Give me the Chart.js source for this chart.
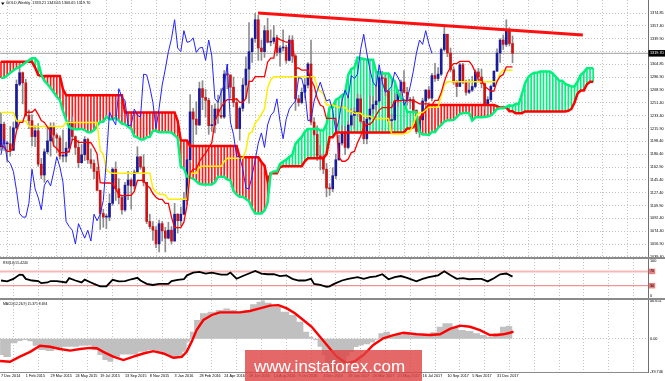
<!DOCTYPE html>
<html>
<head>
<meta charset="utf-8">
<title>GOLD Weekly</title>
<script src="https://cdn.jsdelivr.net/npm/chart.js@4.4.1/dist/chart.umd.min.js"></script>
<style>
  html, body { margin: 0; padding: 0; background: #fff; }
  #wrap { position: relative; width: 665px; height: 381px; overflow: hidden; background: #fff; }
  canvas { position: absolute; left: 0; }
  .sep { position: absolute; left: 0; width: 665px; height: 2px; background: #8a8a8a; }
  #stamp { position: absolute; left: 245px; top: 350px; width: 177px; height: 31px; background: rgba(222, 66, 66, 0.8); }
  #stamp span { position: absolute; left: 9px; top: 7px; line-height: 17px; font: 17px 'Liberation Sans', Arial, sans-serif; color: #fff; white-space: nowrap; }
</style>
</head>
<body>
<div id="wrap">
  <canvas id="main" width="665" height="257" style="top:0"></canvas>
  <div class="sep" style="top:257px"></div>
  <canvas id="rsi" width="665" height="39" style="top:259px"></canvas>
  <div class="sep" style="top:298px"></div>
  <canvas id="macd" width="665" height="81" style="top:300px"></canvas>
  <div id="stamp"><span>www.instaforex.com</span></div>
</div>
<script>
// date labels, one every 8 weekly bars starting at bar 0
var weekLabels = ['7 Dec 2014', '1 Feb 2015', '29 Mar 2015', '24 May 2015', '19 Jul 2015', '13 Sep 2015',
  '8 Nov 2015', '3 Jan 2016', '28 Feb 2016', '24 Apr 2016', '19 Jun 2016', '14 Aug 2016', '9 Oct 2016',
  '4 Dec 2016', '29 Jan 2017', '26 Mar 2017', '21 May 2017', '16 Jul 2017', '10 Sep 2017', '5 Nov 2017', '31 Dec 2017'];

var priceTicks = ['1374.85', '1357.40', '1339.90', '1321.90', '1304.85', '1286.90', '1268.90', '1251.40', '1233.40',
  '1215.90', '1198.40', '1180.40', '1162.90', '1145.40', '1127.40', '1109.90', '1092.40', '1074.40', '1056.90', '1039.40'];
var rsiTicks = [0, 30, 70, 100];
var rsiLevels = [30, 70];
var macdTicks = ['46.651', '0.00', '-39.746'];

var opens = [1191, 1222, 1195, 1195, 1186, 1217, 1277, 1293, 1279, 1234,
  1227, 1205, 1213, 1167, 1152, 1184, 1199, 1219, 1207, 1203,
  1178, 1178, 1189, 1225, 1205, 1190, 1169, 1180, 1201, 1173,
  1168, 1157, 1131, 1099, 1094, 1094, 1113, 1160, 1133, 1121,
  1104, 1138, 1145, 1137, 1156, 1177, 1163, 1142, 1088, 1081,
  1076, 1057, 1085, 1075, 1065, 1076, 1061, 1098, 1089, 1098,
  1117, 1173, 1239, 1229, 1221, 1271, 1259, 1255, 1220, 1221,
  1243, 1234, 1232, 1291, 1290, 1273, 1252, 1216, 1244, 1276,
  1298, 1322, 1340, 1366, 1327, 1322, 1351, 1335, 1336, 1341,
  1321, 1327, 1328, 1310, 1338, 1316, 1257, 1252, 1266, 1276,
  1305, 1225, 1208, 1178, 1177, 1160, 1134, 1133, 1151, 1173,
  1196, 1210, 1190, 1221, 1234, 1239, 1257, 1226, 1202, 1229,
  1243, 1249, 1254, 1286, 1285, 1268, 1227, 1228, 1254, 1268,
  1280, 1266, 1254, 1256, 1241, 1212, 1228, 1254, 1269, 1258,
  1289, 1285, 1291, 1325, 1346, 1320, 1297, 1280, 1274, 1304,
  1280, 1266, 1269, 1274, 1294, 1287, 1278, 1248, 1256, 1274,
  1295, 1320, 1338, 1332, 1351, 1333.21];

var highs = [1238, 1225, 1199, 1219, 1225, 1283, 1307, 1294, 1284, 1242,
  1235, 1220, 1223, 1175, 1188, 1219, 1224, 1224, 1209, 1206,
  1214, 1197, 1227, 1232, 1206, 1200, 1194, 1205, 1203, 1188,
  1173, 1163, 1131, 1105, 1098, 1126, 1162, 1170, 1147, 1124,
  1142, 1157, 1147, 1159, 1191, 1178, 1180, 1142, 1098, 1088,
  1081, 1090, 1088, 1080, 1087, 1081, 1113, 1099, 1108, 1128,
  1174, 1263, 1244, 1253, 1280, 1282, 1270, 1258, 1248, 1250,
  1262, 1271, 1296, 1304, 1290, 1287, 1257, 1246, 1285, 1315,
  1362, 1341, 1375, 1372, 1338, 1358, 1368, 1352, 1358, 1345,
  1330, 1352, 1331, 1344, 1344, 1318, 1262, 1272, 1285, 1307,
  1338, 1231, 1220, 1193, 1180, 1168, 1140, 1162, 1181, 1207,
  1220, 1219, 1226, 1244, 1245, 1264, 1263, 1233, 1233, 1261,
  1260, 1274, 1288, 1295, 1290, 1268, 1236, 1264, 1270, 1283,
  1296, 1273, 1259, 1260, 1242, 1233, 1258, 1270, 1274, 1292,
  1306, 1300, 1327, 1357, 1346, 1327, 1301, 1282, 1306, 1306,
  1283, 1284, 1288, 1297, 1299, 1298, 1279, 1260, 1276, 1296,
  1326, 1340, 1345, 1366, 1355, 1343.65];

var lows = [1186, 1186, 1170, 1178, 1186, 1215, 1275, 1250, 1233, 1216,
  1192, 1191, 1164, 1147, 1142, 1181, 1178, 1192, 1183, 1174,
  1170, 1170, 1183, 1200, 1180, 1162, 1168, 1172, 1168, 1161,
  1147, 1130, 1077, 1080, 1078, 1089, 1110, 1117, 1112, 1098,
  1102, 1118, 1105, 1132, 1156, 1160, 1137, 1085, 1078, 1062,
  1052, 1046, 1061, 1046, 1064, 1057, 1061, 1072, 1082, 1097,
  1111, 1170, 1191, 1208, 1220, 1242, 1232, 1208, 1212, 1210,
  1223, 1230, 1230, 1271, 1258, 1246, 1216, 1200, 1240, 1258,
  1251, 1307, 1335, 1310, 1310, 1314, 1334, 1330, 1333, 1316,
  1302, 1323, 1306, 1309, 1307, 1241, 1247, 1250, 1258, 1272,
  1221, 1206, 1172, 1159, 1154, 1122, 1124, 1129, 1147, 1172,
  1193, 1180, 1188, 1219, 1216, 1233, 1223, 1195, 1195, 1229,
  1237, 1241, 1252, 1277, 1261, 1225, 1214, 1227, 1247, 1259,
  1265, 1248, 1243, 1236, 1209, 1204, 1228, 1244, 1257, 1254,
  1281, 1282, 1289, 1323, 1315, 1294, 1277, 1260, 1274, 1278,
  1262, 1264, 1267, 1272, 1280, 1272, 1243, 1236, 1253, 1274,
  1295, 1307, 1325, 1329, 1330, 1306.65];

var closes = [1222, 1195, 1195, 1186, 1217, 1277, 1293, 1279, 1234, 1227,
  1205, 1213, 1167, 1152, 1184, 1199, 1219, 1207, 1203, 1178,
  1178, 1189, 1225, 1205, 1190, 1169, 1180, 1201, 1173, 1168,
  1157, 1131, 1099, 1094, 1094, 1113, 1160, 1133, 1121, 1104,
  1138, 1145, 1137, 1156, 1177, 1163, 1142, 1088, 1081, 1076,
  1057, 1085, 1075, 1065, 1076, 1061, 1098, 1089, 1098, 1117,
  1173, 1239, 1229, 1221, 1271, 1259, 1255, 1220, 1221, 1243,
  1234, 1232, 1291, 1290, 1273, 1252, 1216, 1244, 1276, 1298,
  1322, 1340, 1366, 1327, 1322, 1351, 1335, 1336, 1341, 1321,
  1327, 1328, 1310, 1338, 1316, 1257, 1252, 1266, 1276, 1305,
  1225, 1208, 1178, 1177, 1160, 1134, 1133, 1151, 1173, 1196,
  1210, 1190, 1221, 1234, 1239, 1257, 1226, 1202, 1229, 1243,
  1249, 1254, 1286, 1285, 1268, 1227, 1228, 1254, 1268, 1280,
  1266, 1254, 1256, 1241, 1212, 1228, 1254, 1269, 1258, 1289,
  1285, 1291, 1325, 1346, 1320, 1297, 1280, 1274, 1304, 1280,
  1266, 1269, 1274, 1294, 1287, 1278, 1248, 1256, 1274, 1295,
  1320, 1338, 1332, 1351, 1333.21, 1319.7];

// ichimoku lines (tenkan red, kijun yellow)
var tenkan = [1193, 1190.5, 1184.5, 1184.5, 1190, 1212.5, 1224.5, 1224.5, 1238.5, 1238.5,
  1238.5, 1242.5, 1235.5, 1227, 1224.5, 1218, 1213, 1192, 1188.5, 1183,
  1183, 1183, 1184.5, 1201, 1201, 1197, 1197, 1197, 1197, 1196.5,
  1189.5, 1181, 1141.5, 1141, 1141, 1141, 1140, 1132.5, 1125, 1123.5,
  1123.5, 1124, 1124, 1129.5, 1144.5, 1144.5, 1144.5, 1138, 1134.5, 1126.5,
  1121.5, 1118.5, 1118.5, 1113, 1113, 1094, 1079.5, 1079.5, 1079.5, 1087,
  1110, 1154.5, 1160, 1160, 1170.5, 1177, 1182, 1189.5, 1196.5, 1226,
  1236.5, 1245, 1252, 1256, 1256, 1256, 1257, 1252, 1252, 1257.5,
  1281, 1281, 1287.5, 1287.5, 1287.5, 1287.5, 1307.5, 1313, 1313, 1341,
  1338.5, 1337, 1335, 1335, 1335, 1299.5, 1299.5, 1296.5, 1296.5, 1296.5,
  1282.5, 1275, 1258, 1248.5, 1246, 1230, 1230, 1230, 1230, 1176.5,
  1171, 1171, 1174, 1183, 1184.5, 1196.5, 1205.5, 1218, 1222, 1222,
  1226, 1234.5, 1241.5, 1245, 1245, 1245, 1245, 1254.5, 1254.5, 1254.5,
  1255, 1255, 1255, 1255, 1252.5, 1250, 1250, 1250, 1250, 1248,
  1255, 1255, 1265.5, 1280.5, 1292.5, 1300.5, 1305.5, 1305.5, 1308.5, 1308.5,
  1308.5, 1308.5, 1303, 1293.5, 1283, 1283, 1274.5, 1271, 1267.5, 1267.5,
  1281, 1288, 1290.5, 1301, 1301, 1301];

var kijun = [1238, 1238, 1238, 1238, 1238, 1226.5, 1226.5, 1226.5, 1226.5, 1219,
  1219, 1219, 1219, 1219, 1219, 1219, 1219, 1219, 1219, 1219,
  1219, 1224.5, 1224.5, 1224.5, 1224.5, 1224.5, 1224.5, 1224.5, 1224.5, 1224.5,
  1224.5, 1224.5, 1185.5, 1180.5, 1159.5, 1156, 1154.5, 1154.5, 1154.5, 1154.5,
  1154.5, 1154.5, 1154.5, 1154.5, 1154.5, 1154.5, 1154.5, 1154.5, 1154.5, 1134,
  1128.5, 1125.5, 1125.5, 1124.5, 1118.5, 1118.5, 1118.5, 1118.5, 1118.5, 1118.5,
  1118.5, 1154.5, 1154.5, 1154.5, 1163, 1164, 1164, 1164, 1164, 1164,
  1164, 1164, 1171, 1175, 1175, 1175, 1175, 1175, 1175, 1186,
  1209.5, 1211.5, 1223.5, 1228.5, 1236, 1243, 1272.5, 1283, 1287.5, 1287.5,
  1287.5, 1287.5, 1287.5, 1287.5, 1287.5, 1287.5, 1287.5, 1287.5, 1287.5, 1287.5,
  1287.5, 1287.5, 1273.5, 1267, 1264.5, 1248.5, 1248.5, 1248.5, 1247, 1245,
  1245, 1245, 1240, 1240, 1237, 1237, 1237, 1233, 1233, 1233,
  1230, 1230, 1230, 1230, 1230, 1230, 1208.5, 1208.5, 1208.5, 1208.5,
  1209, 1210, 1212.5, 1221.5, 1234, 1238, 1238, 1242, 1245.5, 1245.5,
  1245.5, 1245.5, 1261, 1276, 1280.5, 1280.5, 1280.5, 1280.5, 1280.5, 1280.5,
  1280.5, 1280.5, 1280.5, 1280.5, 1280.5, 1280.5, 1280.5, 1280.5, 1280.5, 1280.5,
  1280.5, 1292.5, 1296.5, 1296.5, 1296.5, 1296.5];

// cloud edges, already shifted 26 bars ahead (index = bar position, 0..191)
var spanA = [1286, 1286, 1289, 1293, 1296, 1299, 1301, 1304, 1307, 1310,
  1313, 1313, 1308, 1290, 1282, 1277, 1272, 1266, 1260, 1255,
  1240, 1228, 1218, 1216, 1215, 1215,
  1215.5, 1214, 1211, 1211, 1214, 1219.5, 1225.5, 1225.5, 1232.5, 1229,
  1229, 1231, 1227, 1223, 1222, 1218.5, 1216, 1205.5, 1204, 1201,
  1201, 1204, 1204.5, 1213, 1213, 1211, 1211, 1211, 1211, 1210.5,
  1207, 1203, 1163.5, 1161, 1150, 1148.5, 1147, 1143.5, 1140, 1139,
  1139, 1139, 1139, 1142, 1149.5, 1149.5, 1149.5, 1146, 1144.5, 1130,
  1125, 1122, 1122, 1119, 1116, 1106, 1099, 1099, 1099, 1103,
  1114, 1154.5, 1157, 1157, 1167, 1170.5, 1173, 1177, 1180, 1195,
  1200, 1204.5, 1211.5, 1215.5, 1215.5, 1215.5, 1216, 1213.5, 1213.5, 1222,
  1245, 1246, 1255.5, 1258, 1262, 1265, 1290, 1298, 1300, 1314,
  1313, 1312, 1311, 1311, 1311, 1293.5, 1293.5, 1292, 1292, 1292,
  1285, 1281, 1266, 1258, 1255, 1239, 1239, 1239, 1238.5, 1211,
  1208, 1208, 1207, 1211.5, 1211, 1217, 1221, 1225.5, 1227.5, 1227.5,
  1228, 1232, 1236, 1237.5, 1237.5, 1237.5, 1227, 1231.5, 1231.5, 1231.5,
  1232, 1232.5, 1234, 1238, 1243, 1244, 1244, 1246, 1248, 1247,
  1250, 1250, 1263, 1278, 1286.5, 1290.5, 1293, 1293, 1294.5, 1294.5,
  1294.5, 1294.5, 1292, 1287, 1282, 1282, 1277.5, 1276, 1274, 1274,
  1281, 1290, 1293.5, 1299, 1299, 1299];

var spanB = [1308, 1308, 1308, 1308, 1308, 1308, 1308, 1308, 1308, 1308,
  1308, 1300, 1290, 1288.5, 1288.5, 1288.5, 1288.5, 1288.5, 1288.5, 1288.5,
  1270, 1262, 1262, 1262, 1262, 1262, 1262, 1262, 1262, 1262,
  1262, 1262, 1262, 1262, 1262, 1262, 1262, 1262, 1262, 1262,
  1238, 1238, 1238, 1238, 1238, 1238, 1238, 1238, 1238, 1238,
  1238, 1238, 1238, 1238, 1238, 1238, 1238, 1226.5, 1199.5, 1199.5,
  1199.5, 1192, 1192, 1192, 1192, 1192, 1192, 1192, 1192, 1192,
  1192, 1192, 1192, 1192, 1192, 1192, 1192, 1176.5, 1176.5, 1176.5,
  1176.5, 1176.5, 1176.5, 1176.5, 1170, 1165, 1144, 1154.5, 1154.5, 1154.5,
  1163, 1164, 1164, 1164, 1164, 1164, 1164, 1164, 1171, 1175,
  1175, 1175, 1175, 1175, 1175, 1180.5, 1204, 1204, 1210.5, 1210.5,
  1210.5, 1210.5, 1210.5, 1210.5, 1210.5, 1210.5, 1210.5, 1210.5, 1210.5, 1210.5,
  1210.5, 1210.5, 1210.5, 1210.5, 1210.5, 1210.5, 1210.5, 1210.5, 1210.5, 1210.5,
  1210.5, 1216, 1216, 1218, 1223.5, 1228.5, 1236, 1243, 1248.5, 1248.5,
  1248.5, 1248.5, 1248.5, 1248.5, 1248.5, 1248.5, 1248.5, 1248.5, 1248.5, 1248.5,
  1248.5, 1248.5, 1248.5, 1248.5, 1248.5, 1248.5, 1248.5, 1248.5, 1248.5, 1248.5,
  1247, 1245, 1245, 1245, 1240, 1240, 1237, 1237, 1237, 1239.5,
  1239.5, 1239.5, 1239.5, 1239.5, 1239.5, 1239.5, 1239.5, 1239.5, 1239.5, 1239.5,
  1239.5, 1239.5, 1239.5, 1240.5, 1243, 1252, 1264.5, 1268.5, 1268.5, 1277,
  1280.5, 1280.5];

// drawn resistance line (bar position, price)
var trendWeeks = [82.9, 187.7];
var trendPrices = [1375.3, 1344.9];

var rsiWeeks = [0, 2, 4, 6, 7, 8, 10, 12, 13, 15, 16, 18, 21, 22, 24, 26, 27, 29, 30, 32,
  34, 36, 38, 40, 42, 44, 45, 47, 49, 51, 54, 55, 57, 59, 60, 62, 64, 66, 68, 71,
  73, 74, 76, 78, 80, 82, 84, 86, 88, 90, 92, 94, 96, 98, 100, 101, 103, 105, 106, 107,
  108, 110, 112, 115, 117, 119, 121, 123, 125, 127, 129, 131, 134, 136, 138, 141, 143, 145, 147, 149,
  151, 153, 155, 157, 159, 161, 163, 165];
var rsiValues = [44.5, 42, 49, 61, 60, 49, 44.5, 43, 37, 39, 43, 43, 39, 51, 44.5, 39, 47, 39, 35, 28,
  28, 46.5, 42, 43, 48, 52, 44.5, 35, 32, 35, 35, 43, 46.5, 48, 59, 66.6, 68.6, 64, 66.6, 61,
  61, 66.6, 49.4, 57, 64, 71.3, 64, 62, 62, 57, 59, 49, 44.5, 44.5, 49, 35, 32, 27, 28, 33,
  37, 44.5, 49, 54, 49, 54, 56, 62, 48, 54, 57, 52, 42, 49, 54, 59, 70.4, 59, 49, 51,
  48, 49, 49, 42, 51, 62, 64, 55.4];

var histWeeks = [-0.3, 1.8, 4.5, 6.1, 7.7, 9.4, 11, 13.1, 15.8, 18.5, 21.2, 23.9, 26.5, 28.2, 30.3, 31.9, 33.5, 35.2, 37.3, 39.5,
  42.7, 45.9, 48.6, 51.3, 53.4, 55.6, 57.7, 59.4, 60.4, 61.5, 63.1, 65.3, 68, 70.6, 72.8, 74.9, 77.1, 79.3, 81.4, 83.5,
  84.5, 85.7, 88.9, 91.6, 94.3, 96.5, 98.6, 100.2, 101.3, 102.9, 104, 105, 106, 107, 108, 109, 110, 111, 112, 113,
  114.7, 116, 118, 120.1, 121.2, 122.3, 124.4, 126.5, 128.7, 130.9, 133, 135.2, 137.3, 139.5, 141.6, 143.2, 144.8, 146.5, 148.6, 151.3,
  153.5, 155.6, 157.7, 159.9, 162, 163.7, 165];
var histValues = [-19.7, -22, -5.5, -2.7, -1.5, -3, -8.4, -13.6, -14.8, -11.6, -9.6, -9.6, -8.4, -8, -13.6, -19.7, -25.8, -27.8, -21.7, -18.9,
  -18.9, -15.8, -13.6, -15.8, -19.7, -23.7, -21.7, -15.8, -3.4, 8.6, 22.9, 31, 33, 35, 37, 35, 33, 35, 42, 45,
  46.6, 44, 39, 33, 29, 20.8, 8.6, 2.5, -1.5, -9.6, -20, -29, -36, -39.7, -39, -36, -32, -27, -21, -16,
  -10, -8, -6.7, -4.3, -1, 6.7, 8.6, 5, 5, 6, 4.5, 4, 4.6, 8, 14.7, 18.8, 18.8, 14.7, 10.6, 9.4,
  6.7, 4.6, 2.6, 6.7, 14.7, 15.9, 15.4];

var signalWeeks = [-0.3, 2.9, 6.1, 9.4, 12.6, 15.8, 19, 22.3, 25.5, 28.7, 30.9, 33, 36.2, 39.5, 42.7, 45.9, 49.1, 52.4, 55.6, 58.3,
  59.9, 61.5, 63.1, 65.3, 68, 70.6, 73.9, 77.1, 80.3, 83.5, 86.8, 89.5, 92.2, 94.8, 97.5, 100.2, 102.9, 105.6, 108.3, 111.5,
  114.2, 116.9, 120.1, 123.3, 126.6, 129.8, 134.1, 138.4, 141.6, 144.8, 148.1, 151.3, 154.5, 157.7, 159.9, 162, 164.2, 165.3];
var signalValues = [-27, -27.8, -21.7, -15.8, -8.4, -9.6, -12.4, -14.3, -12.4, -11, -11.5, -15.8, -21.7, -25.8, -21.7, -17.8, -15, -17.8, -23, -22,
  -15.8, -3.4, 10.7, 22.9, 29, 32.2, 32.2, 32.2, 33.8, 37, 40.3, 41, 37, 31, 22.9, 14.7, 2.5, -9.6, -21.7, -30,
  -27, -19.7, -7.5, 0.6, 4.6, 7.4, 5.5, 4.6, 5.5, 12, 16, 14.7, 10.6, 4.6, 4.6, 5.5, 7.4, 8.7];

var X_MIN = -0.32, X_MAX = 208.7;
var FONT = "'Liberation Sans', Arial, sans-serif";
var lastClose = closes[closes.length - 1];

function pts(xs, ys) {
  return ys.map(function (v, k) { return { x: xs[k], y: v }; });
}
function series(ys, start) {
  return ys.map(function (v, k) { return { x: k + (start || 0), y: v }; });
}

// candle bodies and wicks as floating bars
var bodyData = [], bodyColors = [], wickData = [];
for (var i = 0; i < closes.length; i++) {
  bodyData.push({ x: i, y: [opens[i], closes[i]] });
  bodyColors.push(closes[i] >= opens[i] ? '#1a1a9c' : '#cc1414');
  wickData.push({ x: i, y: [lows[i], highs[i]] });
}
// cloud hatching: one thin bar per position between the two spans
var hatchRed = [], hatchGreen = [];
for (var j = 0; j < spanA.length; j++) {
  var lo = Math.min(spanA[j], spanB[j]), hi = Math.max(spanA[j], spanB[j]);
  if (spanB[j] >= spanA[j]) hatchRed.push({ x: j, y: [lo, hi] });
  else hatchGreen.push({ x: j, y: [lo, hi] });
}
var chikou = series(closes.slice(26), 0);

var panelText = {
  id: 'panelText',
  afterDraw: function (chart, args, opts) {
    var ctx = chart.ctx;
    ctx.save();
    ctx.fillStyle = '#000';
    ctx.font = opts.size + 'px ' + FONT;
    ctx.textBaseline = 'top';
    ctx.fillText(opts.text, opts.x, opts.y);
    if (opts.arrow) {
      ctx.beginPath();
      ctx.moveTo(1, 2.5); ctx.lineTo(4.5, 2.5); ctx.lineTo(2.75, 5);
      ctx.closePath();
      ctx.fill();
    }
    ctx.restore();
  }
};

function xAxis(h, labels) {
  return {
    type: 'linear', min: X_MIN, max: X_MAX, offset: false,
    afterBuildTicks: function (s) {
      var t = [];
      for (var v = 0; v <= 208; v += 4) t.push({ value: v });
      s.ticks = t;
    },
    grid: {
      drawTicks: false,
      color: function (c) { return c.tick && c.tick.value % 8 === 4 ? '#c4c4c4' : 'rgba(0,0,0,0)'; }
    },
    border: { display: labels, color: '#8a8a8a', width: 1, dash: [1, 2] },
    ticks: {
      display: labels, autoSkip: false, maxRotation: 0, align: 'start', padding: 1.5,
      font: { size: 3.8, family: FONT }, color: '#000',
      callback: function (v) { return v % 8 === 0 && v / 8 < weekLabels.length ? weekLabels[v / 8] : ''; }
    },
    afterFit: function (s) { s.height = h; s.paddingLeft = 0; s.paddingRight = 0; }
  };
}

function baseOptions(textOpts) {
  return {
    animation: false, responsive: false, devicePixelRatio: 1,
    layout: { padding: 0, autoPadding: false },
    events: [],
    elements: { point: { radius: 0 }, line: { tension: 0 } },
    plugins: { legend: { display: false }, tooltip: { enabled: false }, panelText: textOpts }
  };
}

function barSet(data, color, width, order) {
  return { type: 'bar', data: data, backgroundColor: color, barThickness: width, grouped: false,
    borderWidth: 0, borderSkipped: false, minBarLength: 1, order: order };
}
function lineSet(data, color, width, order) {
  return { type: 'line', data: data, borderColor: color, borderWidth: width, pointRadius: 0, fill: false, order: order };
}

// ---- price panel ----
var mainOpts = baseOptions({ text: 'GOLD,Weekly  1333.21 1343.65 1306.65 1319.70', x: 6, y: 1.5, size: 3.8, arrow: true });
mainOpts.scales = {
  x: xAxis(0, false),
  y: {
    position: 'right', min: 1039.04, max: 1393.18,
    afterBuildTicks: function (s) {
      var t = priceTicks.map(function (p) { return { value: parseFloat(p) }; });
      t.push({ value: lastClose });
      s.ticks = t;
    },
    ticks: {
      autoSkip: false, padding: 2, font: { size: 3.8, family: FONT },
      color: function (c) { return c.index === priceTicks.length ? '#fff' : '#000'; },
      showLabelBackdrop: function (c) { return c.index === priceTicks.length; },
      backdropColor: '#000', backdropPadding: { top: 1, bottom: 1, left: 1.5, right: 4 },
      callback: function (v, idx) { return idx < priceTicks.length ? priceTicks[idx] : v.toFixed(2); }
    },
    grid: {
      drawTicks: false,
      color: function (c) { return c.index === priceTicks.length ? 'rgba(0,0,0,0)' : '#c4c4c4'; }
    },
    border: { display: true, color: '#707070', width: 1, dash: [1, 2] },
    afterFit: function (s) { s.width = 17; s.paddingTop = 0; s.paddingBottom = 0; }
  }
};

new Chart(document.getElementById('main'), {
  type: 'line',
  data: {
    datasets: [
      lineSet(pts(trendWeeks, trendPrices), '#ff1010', 3, 0),
      lineSet(chikou, '#2222ff', 1, 1),
      lineSet(series(tenkan), '#ff0000', 1.3, 2),
      lineSet(series(kijun), '#ffee00', 1.5, 3),
      lineSet(series(spanA), '#00f07c', 2.5, 4),
      lineSet(series(spanB), '#ff0000', 2.5, 5),
      barSet(bodyData, bodyColors, 2, 6),
      barSet(wickData, '#8c8c8c', 1, 7),
      barSet(hatchRed, '#ff1a1a', 1, 8),
      barSet(hatchGreen, '#00f07c', 1, 9),
      lineSet([{ x: X_MIN, y: lastClose }, { x: X_MAX, y: lastClose }], '#a0a0a0', 1, 10)
    ]
  },
  options: mainOpts,
  plugins: [panelText]
});

// ---- RSI panel ----
var rsiOpts = baseOptions({ text: 'RSI(14) 55.4240', x: 3, y: 2, size: 3.4 });
rsiOpts.scales = {
  x: xAxis(0, false),
  y: {
    position: 'right', min: -4.5, max: 104.7,
    afterBuildTicks: function (s) { s.ticks = rsiTicks.map(function (v) { return { value: v }; }); },
    ticks: {
      autoSkip: false, padding: 2, font: { size: 3.8, family: FONT }, color: '#000',
      showLabelBackdrop: function (c) { return c.tick && rsiLevels.indexOf(c.tick.value) >= 0; },
      backdropColor: '#f08080', backdropPadding: { top: 0.5, bottom: 0.5, left: 1, right: 1 },
      callback: function (v) { return String(v); }
    },
    grid: { drawTicks: false, color: 'rgba(0,0,0,0)' },
    border: { display: true, color: '#707070', width: 1 },
    afterFit: function (s) { s.width = 17; s.paddingTop = 0; s.paddingBottom = 0; }
  }
};
new Chart(document.getElementById('rsi'), {
  type: 'line',
  data: {
    datasets: [
      lineSet(pts(rsiWeeks, rsiValues), '#000', 1.8, 0),
      lineSet([{ x: X_MIN, y: rsiLevels[1] }, { x: X_MAX, y: rsiLevels[1] }], '#f7b8b8', 2, 1),
      lineSet([{ x: X_MIN, y: rsiLevels[0] }, { x: X_MAX, y: rsiLevels[0] }], '#ec7c7c', 1, 1)
    ]
  },
  options: rsiOpts,
  plugins: [panelText]
});

// ---- MACD panel ----
var macdOpts = baseOptions({ text: 'MACD(12,26,9) 15.371 8.694', x: 3, y: 2, size: 3.4 });
macdOpts.scales = {
  x: xAxis(9, true),
  y: {
    position: 'right', min: -40.3, max: 47.2,
    afterBuildTicks: function (s) { s.ticks = macdTicks.map(function (v) { return { value: parseFloat(v) }; }); },
    ticks: {
      autoSkip: false, padding: 2, font: { size: 3.8, family: FONT }, color: '#000',
      callback: function (v, idx) { return macdTicks[idx]; }
    },
    grid: {
      drawTicks: false,
      color: function (c) { return c.tick && c.tick.value === 0 ? '#c4c4c4' : 'rgba(0,0,0,0)'; }
    },
    border: { display: true, color: '#707070', width: 1, dash: [1, 2] },
    afterFit: function (s) { s.width = 17; s.paddingTop = 0; s.paddingBottom = 0; }
  }
};
new Chart(document.getElementById('macd'), {
  type: 'line',
  data: {
    datasets: [
      lineSet(pts(signalWeeks, signalValues), '#ff0000', 2.4, 0),
      { type: 'line', data: pts(histWeeks, histValues), stepped: 'middle', borderWidth: 0, pointRadius: 0,
        backgroundColor: '#c0c0c0', fill: 'origin', order: 1 }
    ]
  },
  options: macdOpts,
  plugins: [panelText]
});
</script>
</body>
</html>
